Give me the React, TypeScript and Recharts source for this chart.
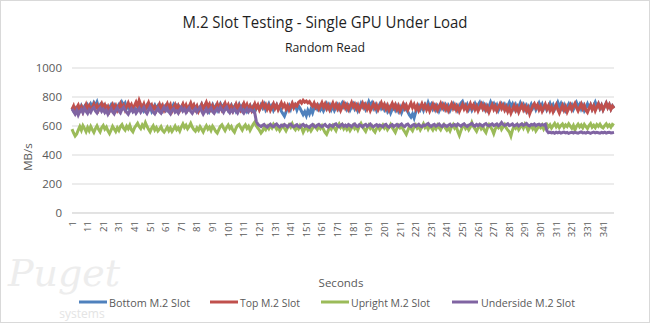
import { LineChart, Line, XAxis, YAxis, CartesianGrid } from 'recharts'

// MB/s per second
const bottomSlot = [
  728, 705, 722, 700, 731, 712, 740, 718, 735, 709, 744, 726, 752, 731, 760, 742, 765, 728, 745, 716,
  738, 712, 730, 702, 726, 745, 718, 739, 708, 731, 748, 725, 762, 741, 758, 722, 740, 711, 733, 705,
  724, 698, 719, 741, 716, 735, 707, 728, 745, 719, 737, 702, 725, 744, 720, 739, 712, 734, 706, 727,
  741, 714, 736, 701, 723, 748, 725, 740, 711, 732, 718, 745, 722, 738, 709, 729, 752, 727, 743, 715,
  734, 706, 728, 750, 724, 741, 713, 736, 702, 725, 747, 721, 739, 710, 733, 754, 729, 744, 716, 731,
  708, 727, 745, 719, 736, 704, 726, 749, 722, 740, 712, 731, 703, 724, 742, 717, 735, 700, 721, 739,
  716, 744, 725, 748, 712, 733, 754, 726, 742, 709, 731, 748, 718, 737, 702, 685, 668, 697, 724, 742,
  716, 751, 728, 745, 711, 739, 722, 700, 679, 698, 671, 708, 684, 716, 690, 725, 741, 718, 739, 712,
  730, 705, 728, 752, 724, 745, 713, 737, 708, 731, 748, 719, 742, 760, 733, 749, 717, 738, 711, 734,
  752, 720, 741, 706, 729, 756, 731, 746, 715, 738, 768, 741, 759, 724, 744, 708, 731, 750, 722, 739,
  713, 736, 702, 724, 690, 716, 738, 711, 735, 704, 728, 693, 719, 741, 712, 698, 676, 661, 683, 655,
  694, 722, 740, 714, 737, 709, 745, 726, 761, 732, 750, 718, 740, 711, 734, 703, 727, 749, 721, 744,
  716, 738, 707, 729, 752, 724, 741, 710, 733, 758, 770, 741, 726, 748, 715, 738, 709, 731, 755, 728,
  746, 763, 733, 752, 719, 741, 712, 736, 765, 738, 754, 722, 744, 708, 730, 751, 726, 747, 717, 740,
  762, 735, 753, 721, 745, 713, 734, 759, 731, 748, 716, 739, 705, 727, 750, 723, 744, 712, 736, 758,
  730, 751, 719, 742, 711, 733, 756, 728, 747, 715, 738, 763, 734, 755, 722, 744, 709, 731, 752, 726,
  745, 714, 737, 761, 733, 750, 718, 741, 707, 729, 753, 726, 746, 716, 740, 764, 735, 752, 720, 743,
  712, 735, 758, 729, 748, 717, 739, 726,
]

const topSlot = [
  715, 738, 701, 726, 744, 712, 733, 698, 724, 749, 716, 738, 707, 729, 752, 721, 742, 710, 735, 756,
  727, 746, 713, 734, 702, 725, 748, 719, 740, 708, 731, 755, 724, 743, 711, 736, 760, 732, 749, 718,
  741, 764, 735, 776, 748, 726, 752, 714, 737, 761, 729, 745, 712, 733, 706, 728, 750, 719, 741, 709,
  732, 754, 723, 745, 701, 724, 747, 716, 739, 707, 730, 752, 721, 744, 712, 735, 758, 727, 746, 714,
  737, 702, 726, 749, 718, 740, 763, 731, 750, 717, 739, 706, 729, 753, 722, 745, 713, 734, 757, 728,
  747, 715, 738, 704, 727, 751, 720, 742, 711, 733, 756, 726, 748, 716, 738, 707, 731, 754, 724, 745,
  712, 736, 759, 729, 748, 716, 740, 708, 730, 753, 722, 744, 713, 737, 760, 731, 750, 719, 742, 711,
  734, 757, 727, 749, 738, 762, 771, 758, 777, 764, 772, 760, 769, 751, 737, 758, 729, 746, 717, 739,
  761, 731, 752, 720, 743, 712, 735, 759, 728, 749, 718, 741, 708, 732, 755, 725, 746, 714, 738, 762,
  733, 751, 721, 744, 710, 734, 757, 727, 748, 716, 740, 706, 730, 753, 723, 745, 713, 736, 760, 729,
  750, 718, 742, 709, 733, 756, 726, 747, 715, 739, 704, 728, 752, 721, 743, 712, 735, 758, 727, 749,
  717, 741, 707, 730, 754, 724, 745, 713, 737, 703, 727, 750, 719, 741, 710, 733, 756, 725, 746, 715,
  738, 706, 729, 753, 722, 744, 711, 735, 701, 725, 748, 718, 740, 709, 732, 755, 724, 745, 714, 737,
  704, 728, 751, 720, 742, 710, 733, 697, 723, 746, 715, 738, 706, 729, 752, 721, 743, 711, 734, 700,
  724, 689, 715, 740, 708, 731, 696, 721, 745, 713, 736, 703, 727, 684, 712, 739, 754, 726, 745, 712,
  735, 702, 726, 749, 717, 740, 707, 731, 698, 723, 746, 714, 689, 718, 742, 710, 734, 697, 722, 745,
  713, 737, 756, 727, 704, 729, 752, 720, 742, 709, 694, 721, 746, 714, 738, 705, 730, 753, 722, 743,
  711, 735, 757, 726, 747, 715, 738, 722,
]

const uprightSlot = [
  578, 552, 531, 545, 572, 596, 571, 603, 584, 561, 590, 568, 597, 575, 556, 582, 601, 577, 560, 589,
  604, 579, 593, 566, 548, 571, 598, 580, 562, 587, 569, 596, 609, 584, 571, 598, 582, 605, 574, 560,
  586, 603, 619, 596, 582, 607, 591, 623, 598, 577, 560, 584, 601, 573, 589, 566, 579, 595, 570, 558,
  574, 592, 568, 586, 563, 580, 599, 575, 588, 566, 593, 614, 590, 605, 581, 597, 618, 593, 576, 565,
  587, 571, 595, 578, 559, 584, 602, 579, 593, 570, 598, 582, 563, 551, 575, 597, 608, 586, 568, 590,
  606, 583, 597, 571, 557, 585, 603, 611, 589, 572, 594, 608, 584, 598, 570, 591, 612, 627, 601, 586,
  571, 552, 566, 590, 575, 598, 581, 604, 587, 612, 596, 578, 593, 569, 587, 603, 584, 566, 589, 608,
  592, 615, 588, 574, 596, 581, 603, 586, 557, 579, 597, 573, 589, 566, 584, 604, 591, 577, 598, 583,
  601, 576, 555, 542, 568, 593, 579, 602, 585, 568, 596, 614, 590, 607, 581, 598, 576, 592, 569, 587,
  604, 582, 596, 573, 600, 618, 594, 578, 563, 589, 606, 584, 598, 571, 558, 583, 597, 575, 591, 607,
  586, 601, 575, 592, 611, 589, 573, 556, 584, 603, 587, 599, 577, 560, 542, 571, 596, 582, 567, 593,
  608, 585, 599, 574, 593, 615, 590, 604, 579, 601, 588, 572, 595, 580, 606, 589, 574, 597, 610, 586,
  571, 587, 566, 594, 610, 585, 598, 562, 535, 568, 595, 608, 583, 597, 574, 592, 623, 596, 579, 563,
  588, 605, 581, 596, 570, 554, 587, 609, 592, 575, 548, 580, 601, 588, 605, 577, 594, 610, 586, 572,
  559, 530, 571, 598, 584, 605, 575, 592, 608, 586, 612, 593, 568, 589, 604, 580, 597, 566, 583, 600,
  588, 606, 579, 597, 611, 593, 608, 586, 602, 617, 595, 610, 589, 603, 614, 591, 607, 596, 615, 599,
  585, 604, 573, 598, 612, 594, 607, 588, 611, 596, 583, 603, 616, 592, 605, 589, 610, 598, 612, 594,
  587, 603, 615, 596, 608, 592, 611, 604,
]

const undersideSlot = [
  718, 701, 683, 706, 676, 699, 714, 692, 722, 704, 687, 711, 695, 718, 728, 703, 690, 712, 724, 701,
  715, 693, 708, 681, 702, 720, 697, 684, 709, 726, 704, 691, 716, 729, 708, 695, 681, 703, 719, 698,
  712, 688, 704, 721, 695, 710, 727, 701, 686, 707, 732, 711, 696, 684, 705, 722, 700, 689, 713, 730,
  707, 722, 698, 684, 709, 719, 695, 705, 689, 714, 728, 703, 718, 693, 711, 725, 700, 687, 706, 721,
  697, 714, 729, 702, 682, 700, 718, 694, 709, 724, 699, 688, 708, 721, 703, 728, 711, 694, 716, 731,
  706, 692, 712, 697, 718, 704, 689, 711, 726, 701, 688, 705, 720, 698, 714, 707, 698, 690, 632, 612,
  603, 596, 605, 611, 599, 592, 604, 612, 600, 595, 607, 614, 601, 593, 606, 599, 611, 603, 594, 608,
  613, 600, 595, 603, 609, 597, 592, 605, 611, 598, 604, 596, 590, 603, 610, 599, 594, 606, 612, 601,
  595, 604, 611, 598, 593, 607, 602, 596, 610, 615, 601, 594, 605, 612, 599, 606, 597, 610, 603, 595,
  608, 614, 600, 596, 609, 603, 594, 606, 611, 598, 605, 613, 600, 595, 604, 610, 597, 606, 601, 594,
  607, 612, 598, 592, 603, 609, 596, 604, 611, 599, 607, 614, 601, 596, 608, 613, 600, 595, 606, 611,
  598, 604, 612, 600, 595, 607, 603, 611, 617, 602, 597, 606, 611, 599, 605, 613, 601, 596, 609, 604,
  597, 606, 612, 599, 604, 610, 601, 614, 606, 598, 609, 615, 603, 597, 606, 612, 618, 604, 599, 610,
  603, 612, 606, 599, 611, 617, 605, 601, 609, 615, 603, 608, 614, 602, 610, 624, 611, 604, 609, 616,
  603, 608, 614, 601, 606, 612, 600, 609, 615, 604, 610, 617, 605, 600, 611, 607, 614, 602, 609, 613,
  604, 610, 606, 612, 568, 554, 558, 552, 556, 550, 557, 553, 559, 551, 555, 558, 552, 556, 549, 554,
  557, 552, 558, 553, 550, 556, 559, 552, 555, 551, 557, 554, 549, 555, 558, 552, 556, 553, 550, 556,
  553, 558, 551, 555, 557, 552, 554, 556,
]

const yTicks = [0, 100, 200, 300, 400, 500, 600, 700, 800, 900, 1000]

const series = [
  { key: 'bottom', name: 'Bottom M.2 Slot', color: '#4f81bd', values: bottomSlot },
  { key: 'top', name: 'Top M.2 Slot', color: '#c0504d', values: topSlot },
  { key: 'upright', name: 'Upright M.2 Slot', color: '#9bbb59', values: uprightSlot },
  { key: 'underside', name: 'Underside M.2 Slot', color: '#8064a2', values: undersideSlot },
]

const data = bottomSlot.map((_, i) => {
  const row: Record<string, number> = { sec: i + 1 }
  series.forEach((s) => { row[s.key] = s.values[i] })
  return row
})

const font = '"Open Sans", sans-serif'

const SecTick = ({ x, y, payload }: any) => (
  <text
    x={x}
    y={y}
    transform={`rotate(-90 ${x} ${y})`}
    textAnchor="end"
    dominantBaseline="central"
    fontFamily={font}
    fontSize={9.5}
    fill="#595959"
  >
    {payload.value}
  </text>
)

// legend geometry: [line start, line end, text start, text width]
const legendPos = [
  [79, 107, 109, 81],
  [210, 238, 240, 60],
  [321, 349, 351, 79],
  [452, 478, 481, 94],
]

export default function App() {
  return (
    <div style={{ position: 'relative', width: 650, height: 323, background: '#fff', fontFamily: font }}>
      <style>{'body{margin:0}'}</style>
      <svg width={650} height={323} style={{ position: 'absolute', left: 0, top: 0 }}>
        <text x={64} y={286} fontFamily='"DejaVu Serif", serif' fontStyle="italic" fontSize={38} fill="#ededed" textAnchor="middle">
          Puget
        </text>
        <text x={82} y={318} fontFamily={font} fontSize={12} fill="#e4e4e4" textAnchor="middle">
          systems
        </text>
      </svg>
      <div style={{ position: 'absolute', left: 0, top: 0 }}>
        <LineChart width={650} height={323} data={data} margin={{ top: 68, right: 36, bottom: 80, left: 0 }}>
          <CartesianGrid vertical={false} stroke="#d9d9d9" />
          <XAxis
            dataKey="sec"
            interval={9}
            tickLine={false}
            axisLine={{ stroke: '#d9d9d9' }}
            tick={<SecTick />}
            tickMargin={2}
            height={30}
          />
          <YAxis
            width={72}
            domain={[0, 1000]}
            ticks={yTicks}
            tickLine={false}
            axisLine={false}
            tickMargin={4}
            tick={{ fontSize: 11.5, fill: '#595959', fontFamily: font }}
          />
          {series.map((s) => (
            <Line
              key={s.key}
              type="linear"
              dataKey={s.key}
              name={s.name}
              stroke={s.color}
              strokeWidth={3}
              dot={false}
              isAnimationActive={false}
            />
          ))}
        </LineChart>
      </div>
      <svg width={650} height={323} style={{ position: 'absolute', left: 0, top: 0, pointerEvents: 'none' }}>
        <text x={325} y={28} textAnchor="middle" fontFamily={font} fontSize={17} fill="#1f1f1f" textLength={285} lengthAdjust="spacingAndGlyphs">
          M.2 Slot Testing - Single GPU Under Load
        </text>
        <text x={325} y={52} textAnchor="middle" fontFamily={font} fontSize={13} fill="#1f1f1f" textLength={80} lengthAdjust="spacingAndGlyphs">
          Random Read
        </text>
        <text x={27} y={157} transform="rotate(-90 27 157)" textAnchor="middle" dominantBaseline="central" fontFamily={font} fontSize={11.5} fill="#595959">
          MB/s
        </text>
        <text x={341} y={287} textAnchor="middle" fontFamily={font} fontSize={11.5} fill="#595959">
          Seconds
        </text>
        {series.map((s, i) => {
          const [l0, l1, tx, tw] = legendPos[i]
          return (
            <g key={s.key}>
              <line x1={l0} x2={l1} y1={302} y2={302} stroke={s.color} strokeWidth={3} />
              <text x={tx} y={302} dominantBaseline="central" fontFamily={font} fontSize={11.5} fill="#595959" textLength={tw} lengthAdjust="spacingAndGlyphs">
                {s.name}
              </text>
            </g>
          )
        })}
        <rect x={0.5} y={0.5} width={649} height={322} fill="none" stroke="#d9d9d9" />
      </svg>
    </div>
  )
}
